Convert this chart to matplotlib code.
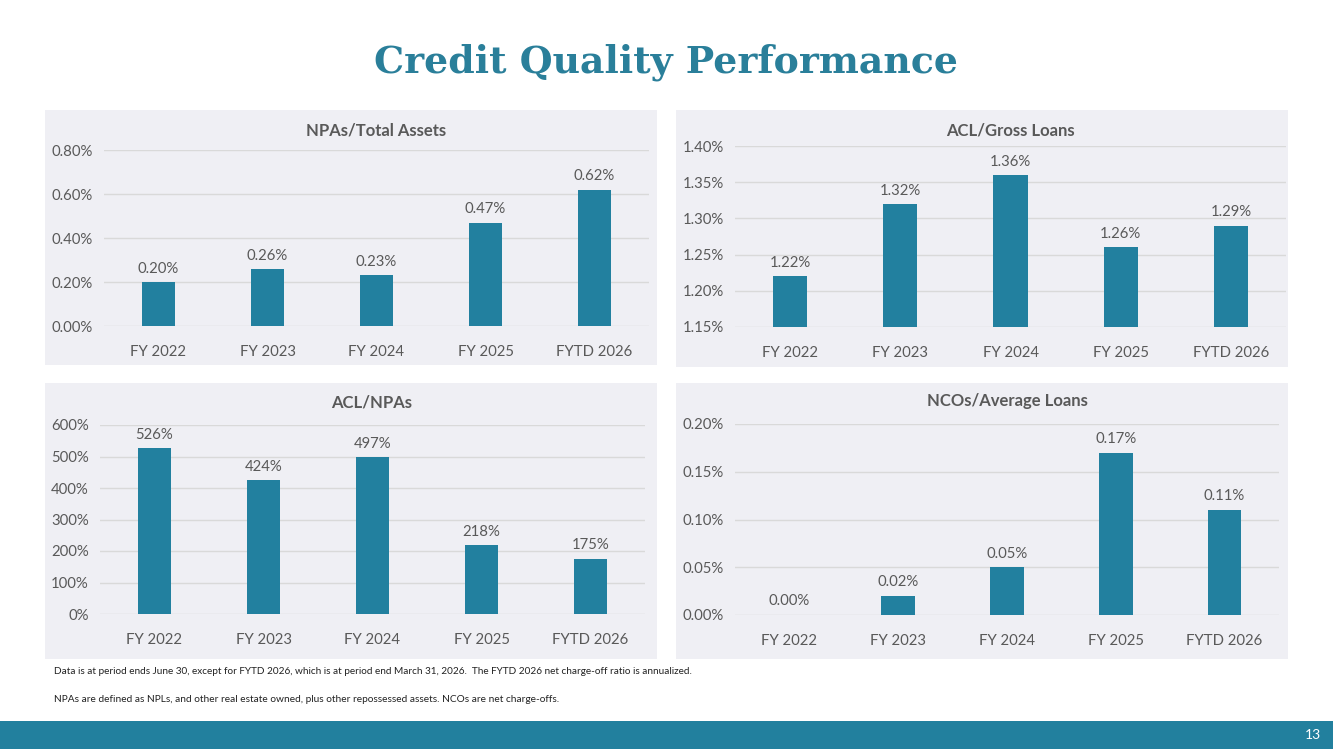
import matplotlib.pyplot as plt
from matplotlib.patches import Rectangle
from matplotlib.ticker import FuncFormatter

plt.rcParams['font.family'] = ['Lato', 'DejaVu Sans']

categories = ['FY 2022', 'FY 2023', 'FY 2024', 'FY 2025', 'FYTD 2026']

npa_assets = [0.20, 0.26, 0.23, 0.47, 0.62]
acl_loans = [1.22, 1.32, 1.36, 1.26, 1.29]
acl_npas = [526, 424, 497, 218, 175]
nco_loans = [0.00, 0.02, 0.05, 0.17, 0.11]

W, H = 1333, 749
BAR = '#22809F'
TXT = '#595959'
PANEL = '#EFEFF4'

fig = plt.figure(figsize=(W / 100, H / 100), dpi=100)


def px_rect(x0, y0, x1, y1):
    # pixel box (top-left origin) -> figure fraction [l, b, w, h]
    return [x0 / W, 1 - y1 / H, (x1 - x0) / W, (y1 - y0) / H]


def panel(box, plot_box, title, title_y, values, ylim, yticks, fmt, lab):
    fig.patches.append(Rectangle(box[:2], box[2], box[3], transform=fig.transFigure,
                                 facecolor=PANEL, edgecolor='none', zorder=-1))
    ax = fig.add_axes(plot_box)
    ax.set_facecolor('none')
    x = range(len(categories))
    ax.bar(x, values, width=0.31, color=BAR, zorder=3)
    ax.set_xlim(-0.5, len(categories) - 0.5)
    ax.set_ylim(*ylim)
    ax.set_yticks(yticks)
    ax.yaxis.set_major_formatter(FuncFormatter(fmt))
    ax.set_xticks(list(x))
    ax.set_xticklabels(categories)
    ax.grid(axis='y', color='#D9D9D9', linewidth=1, zorder=0)
    for s in ax.spines.values():
        s.set_visible(False)
    ax.tick_params(length=0, labelsize=10.7, colors=TXT)
    ax.tick_params(axis='x', pad=14)
    ax.tick_params(axis='y', pad=8)
    span = ylim[1] - ylim[0]
    for i, v in enumerate(values):
        ax.text(i, v + span * 0.035, lab(v), ha='center', va='bottom',
                fontsize=10.7, color=TXT)
    fig.text(title_y[0] / W, 1 - title_y[1] / H, title, ha='center', va='center',
             fontsize=12, fontweight='bold', color=TXT)
    return ax


pct2 = lambda v, p: f'{v:.2f}%'
pct0 = lambda v, p: f'{v:.0f}%'

panel(px_rect(45, 110, 657, 365), px_rect(104, 150, 649, 326), 'NPAs/Total Assets',
      (376, 130), npa_assets, (0, 0.8), [0, 0.2, 0.4, 0.6, 0.8], pct2,
      lambda v: f'{v:.2f}%')
panel(px_rect(676, 110, 1288, 367), px_rect(735, 146, 1286, 327), 'ACL/Gross Loans',
      (1010, 130), acl_loans, (1.15, 1.40), [1.15, 1.20, 1.25, 1.30, 1.35, 1.40], pct2,
      lambda v: f'{v:.2f}%')
panel(px_rect(45, 383, 657, 659), px_rect(100, 425, 645, 614), 'ACL/NPAs',
      (372, 402), acl_npas, (0, 600), [0, 100, 200, 300, 400, 500, 600], pct0,
      lambda v: f'{v:.0f}%')
panel(px_rect(676, 383, 1288, 659), px_rect(735, 424, 1279, 615), 'NCOs/Average Loans',
      (1007, 401), nco_loans, (0, 0.2), [0, 0.05, 0.10, 0.15, 0.20], pct2,
      lambda v: f'{v:.2f}%')

fig.text(666 / W, 1 - 62 / H, 'Credit Quality Performance', ha='center', va='center',
         fontsize=27.3, fontweight='bold', color='#2A7F9A', family='DejaVu Serif')

fig.text(54 / W, 1 - 672 / H,
         'Data is at period ends June 30, except for FYTD 2026, which is at period end '
         'March 31, 2026.  The FYTD 2026 net charge-off ratio is annualized.',
         ha='left', va='center', fontsize=7.2, color='#222222')
fig.text(54 / W, 1 - 699 / H,
         'NPAs are defined as NPLs, and other real estate owned, plus other repossessed '
         'assets. NCOs are net charge-offs.',
         ha='left', va='center', fontsize=7.3, color='#222222')

fig.patches.append(Rectangle((0, 0), 1, 28 / H, transform=fig.transFigure,
                             facecolor='#22809E', edgecolor='none'))
fig.text(1321 / W, 1 - 735 / H, '13', ha='right', va='center', fontsize=10, color='white')

fig.savefig('out.png', dpi=100)
